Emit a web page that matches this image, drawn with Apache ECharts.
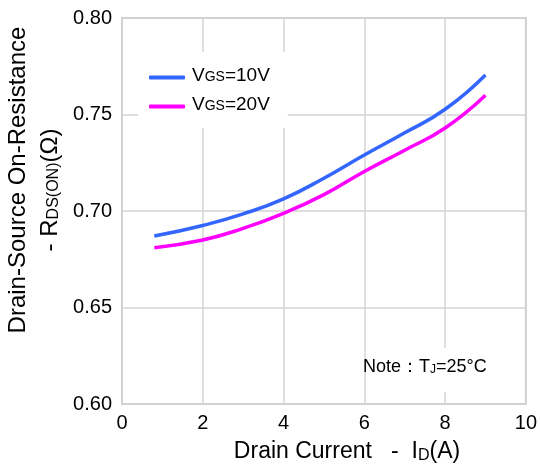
<!DOCTYPE html>
<html>
<head>
<meta charset="utf-8">
<script src="https://cdn.jsdelivr.net/npm/echarts@6/dist/echarts.min.js"></script>
<style>
  html, body { margin: 0; padding: 0; background: #fff; }
  #chart { width: 540px; height: 467px; }
</style>
</head>
<body>
<div id="chart"></div>
<script>
// drain current (A)
const currents = [0.8, 2, 3, 4, 5, 6, 7, 8, 9];
// on-resistance (ohm)
const rdsVgs10 = [0.687, 0.6925, 0.6985, 0.7063, 0.717, 0.729, 0.7405, 0.7527, 0.7705];
const rdsVgs20 = [0.681, 0.685, 0.691, 0.6988, 0.7085, 0.7205, 0.7315, 0.743, 0.760];
const seriesNames = ["VGS=10V", "VGS=20V"];
const xTicks = [0, 2, 4, 6, 8, 10];
const yTicks = [0.60, 0.65, 0.70, 0.75, 0.80];

const font = "Liberation Sans, Arial, sans-serif";
const pairs = (ys) => currents.map((x, i) => [x, ys[i]]);

var myChart = echarts.init(document.getElementById("chart"));
myChart.setOption({
  backgroundColor: "#fff",
  animation: false,
  grid: {
    left: 122, right: 13, top: 18, bottom: 63,
    show: true, borderColor: "#c8c8c8", borderWidth: 2
  },
  xAxis: {
    type: "value",
    min: xTicks[0], max: xTicks[xTicks.length - 1], interval: 2,
    axisLine: { show: false },
    axisTick: { show: false },
    splitLine: { lineStyle: { color: "#d4d4d4", width: 1.5 } },
    axisLabel: { color: "#000", fontSize: 20, fontFamily: font, margin: 9 }
  },
  yAxis: {
    type: "value",
    min: yTicks[0], max: yTicks[yTicks.length - 1], interval: 0.05,
    axisLine: { show: false },
    axisTick: { show: false },
    splitLine: { lineStyle: { color: "#d4d4d4", width: 1.5 } },
    axisLabel: {
      color: "#000", fontSize: 20, fontFamily: font, margin: 10,
      formatter: (v) => v.toFixed(2)
    }
  },
  legend: {
    orient: "vertical",
    left: 138, top: 52,
    padding: [14, 18, 14, 11],
    itemGap: 10,
    itemWidth: 36, itemHeight: 4,
    icon: "roundRect",
    backgroundColor: "#fff",
    data: seriesNames,
    formatter: (name) => "{m|V}{s|GS}{m|" + name.slice(3) + "}",
    textStyle: {
      padding: [0, 0, 0, 2],
      rich: {
        m: { fontSize: 19, fontFamily: font, color: "#000", verticalAlign: "bottom", lineHeight: 14 },
        s: { fontSize: 14, fontFamily: font, color: "#000", verticalAlign: "bottom", padding: [0, 0, 1, 0] }
      }
    }
  },
  graphic: [
    {
      type: "rect", z: 5,
      shape: { x: 368, y: 348, width: 124, height: 44 },
      style: { fill: "#fff" }
    },
    {
      type: "text", z: 6, x: 363, y: 367,
      style: {
        text: "{n|Note：T}{j|J}{n|=25°C}",
        verticalAlign: "middle",
        rich: {
          n: { fontSize: 18, fontFamily: font, fill: "#000", verticalAlign: "bottom" },
          j: { fontSize: 12, fontFamily: font, fill: "#000", verticalAlign: "bottom" }
        }
      }
    },
    {
      type: "text", x: 18, y: 180, rotation: Math.PI / 2,
      style: {
        text: "Drain-Source On-Resistance",
        font: "24px " + font, fill: "#000",
        align: "center", verticalAlign: "middle"
      }
    },
    {
      type: "text", x: 50, y: 190, rotation: Math.PI / 2,
      style: {
        text: "{n|- R}{s|DS(ON)}{n|(Ω)}",
        align: "center", verticalAlign: "middle",
        rich: {
          n: { fontSize: 24, fontFamily: font, fill: "#000", verticalAlign: "bottom" },
          s: { fontSize: 16, fontFamily: font, fill: "#000", verticalAlign: "bottom" }
        }
      }
    },
    {
      type: "text", x: 347, y: 452,
      style: {
        text: "{n|Drain Current   -  I}{s|D}{n|(A)}",
        align: "center", verticalAlign: "middle",
        rich: {
          n: { fontSize: 23, fontFamily: font, fill: "#000", verticalAlign: "bottom" },
          s: { fontSize: 16, fontFamily: font, fill: "#000", verticalAlign: "bottom" }
        }
      }
    }
  ],
  series: [
    {
      name: seriesNames[0], type: "line", smooth: 0.5, symbol: "none",
      data: pairs(rdsVgs10),
      lineStyle: { color: "#3366ff", width: 3.5 },
      itemStyle: { color: "#3366ff" }
    },
    {
      name: seriesNames[1], type: "line", smooth: 0.5, symbol: "none",
      data: pairs(rdsVgs20),
      lineStyle: { color: "#ff00ff", width: 3.5 },
      itemStyle: { color: "#ff00ff" }
    }
  ]
});
</script>
</body>
</html>
